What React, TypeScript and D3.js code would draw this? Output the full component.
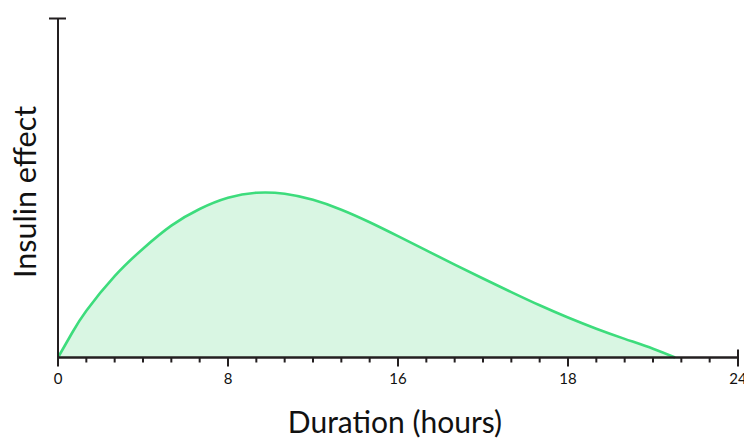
import React from "react";
import * as d3 from "d3";

const hours = [0, 0.5, 1, 2, 3, 4, 5, 6, 7, 8, 9, 10, 11, 12, 13, 14, 15, 16, 17, 18, 19, 20, 21, 21.78];
const effect = [0, 0.073, 0.138, 0.24, 0.321, 0.389, 0.438, 0.471, 0.486, 0.483, 0.465, 0.436, 0.399, 0.358, 0.316, 0.274, 0.233, 0.193, 0.154, 0.118, 0.085, 0.055, 0.026, 0];
const majorTickValues = [0, 6, 12, 18, 24];
const majorTickLabels = ["0", "8", "16", "18", "24"];
const minorTickValues = d3.range(0, 25, 1).filter((v) => v % 6 !== 0);
const xTitle = "Duration (hours)";
const yTitle = "Insulin effect";

const W = 744;
const H = 438;
const left = 58;
const right = 738;
const top = 18.5;
const bottom = 357.5;

export default function App() {
  const x = d3.scaleLinear().domain([0, 24]).range([left, right]);
  const y = d3.scaleLinear().domain([0, 1]).range([bottom, top]);
  const data = hours.map((h, i) => ({ h, v: effect[i] }));
  const area = d3
    .area<{ h: number; v: number }>()
    .x((d) => x(d.h))
    .y0(y(0))
    .y1((d) => y(d.v))
    .curve(d3.curveNatural);
  const line = d3
    .line<{ h: number; v: number }>()
    .x((d) => x(d.h))
    .y((d) => y(d.v))
    .curve(d3.curveNatural);
  const axisColor = "#231f20";
  const font = "Lato, 'Open Sans', sans-serif";
  return (
    <svg width={W} height={H} style={{ position: "absolute", left: 0, top: 0 }}>
      <path d={area(data) || ""} fill="#d9f6e3" />
      <path d={line(data) || ""} fill="none" stroke="#3ddc7c" strokeWidth={2.6} />
      {/* y axis */}
      <line x1={left} x2={left} y1={top} y2={bottom + 1} stroke={axisColor} strokeWidth={2} />
      <line x1={left - 9} x2={left + 8} y1={top} y2={top} stroke={axisColor} strokeWidth={2} />
      {/* x axis */}
      <line x1={left - 1} x2={right} y1={bottom} y2={bottom} stroke={axisColor} strokeWidth={2.4} />
      {minorTickValues.map((v) => (
        <line key={"m" + v} x1={x(v)} x2={x(v)} y1={bottom} y2={bottom + 5} stroke={axisColor} strokeWidth={2} />
      ))}
      {majorTickValues.map((v, i) => (
        <g key={"M" + v}>
          <line
            x1={x(v)}
            x2={x(v)}
            y1={v === 24 ? bottom - 8 : bottom}
            y2={bottom + 9}
            stroke={axisColor}
            strokeWidth={2}
          />
          <text x={x(v)} y={384} textAnchor="middle" fontFamily={font} fontSize={15} fill="#111">
            {majorTickLabels[i]}
          </text>
        </g>
      ))}
      <text x={395} y={433} textAnchor="middle" fontFamily={font} fontSize={30} fill="#111">
        {xTitle}
      </text>
      <text
        transform={`translate(36, 192) rotate(-90)`}
        textAnchor="middle"
        fontFamily={font}
        fontSize={30.5}
        fill="#111"
      >
        {yTitle}
      </text>
    </svg>
  );
}
